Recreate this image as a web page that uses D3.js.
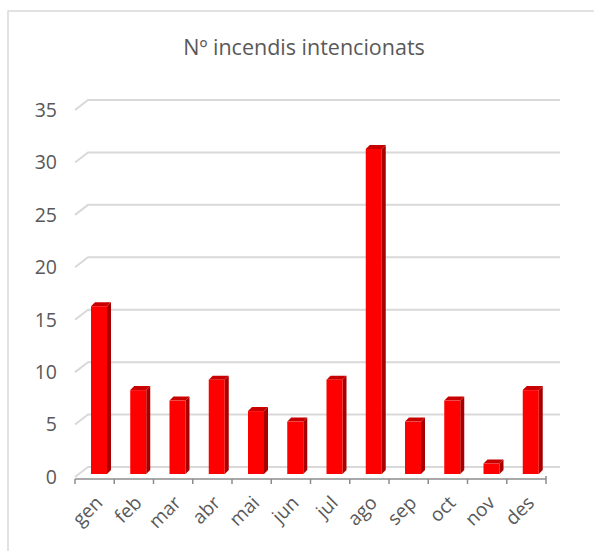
<!DOCTYPE html>
<html>
<head>
<meta charset="utf-8">
<script src="https://cdn.jsdelivr.net/npm/d3@7"></script>
<style>
  body { margin: 0; background: #fff; }
  svg { display: block; }
  text { font-family: "Open Sans", "Liberation Sans", Arial, sans-serif; fill: #595959; }
</style>
</head>
<body>
<svg id="chart" width="594" height="551"></svg>
<script>
// data
var months = ["gen", "feb", "mar", "abr", "mai", "jun", "jul", "ago", "sep", "oct", "nov", "des"];
var values = [16, 8, 7, 9, 6, 5, 9, 31, 5, 7, 1, 8];
var yTicks = [0, 5, 10, 15, 20, 25, 30, 35];
var title = "Nº incendis intencionats";

var svg = d3.select("#chart");

// chart border (only top/left visible)
svg.append("rect")
    .attr("x", 8).attr("y", 11)
    .attr("width", 600).attr("height", 560)
    .attr("fill", "none")
    .attr("stroke", "#d9d9d9")
    .attr("stroke-width", 1.5);

svg.append("text")
    .attr("x", 304).attr("y", 55)
    .attr("text-anchor", "middle")
    .style("font-size", "21.5px")
    .text(title);

var x = d3.scaleBand().domain(months).range([75, 546]);
// y for bar front faces
var y = d3.scaleLinear().domain([0, 35]).range([474, 474 - 35 * 10.486]);

var depth = 4;

// gridlines: slanted side wall + back wall
svg.selectAll(".grid")
    .data(yTicks)
    .enter()
    .append("path")
    .attr("class", "grid")
    .attr("fill", "none")
    .attr("stroke", "#d9d9d9")
    .attr("stroke-width", 2)
    .attr("d", function (d) {
        return "M 75 " + (y(d) + 3) + " L 88 " + (y(d) - 7) + " L 560 " + (y(d) - 7);
    });

// y labels
svg.selectAll(".ylab")
    .data(yTicks)
    .enter()
    .append("text")
    .attr("class", "ylab")
    .attr("x", 57)
    .attr("y", function (d) {return y(d) + 3;})
    .attr("dy", "0.35em")
    .attr("text-anchor", "end")
    .style("font-size", "19.5px")
    .text(function (d) {return d;});

// bars
var bars = svg.selectAll(".bar")
    .data(values)
    .enter()
    .append("g")
    .attr("class", "bar");

var bw = 16;
function x0(d, i) { return x(months[i]) + 16; }

bars.append("path")
    .attr("fill", "#a80000")
    .attr("d", function (d, i) {
        var a = x0(d, i) + bw;
        return "M " + a + " " + y(d) + " L " + (a + depth) + " " + (y(d) - depth) +
            " L " + (a + depth) + " " + (y(0) - depth) + " L " + a + " " + y(0) + " Z";
    });

bars.append("path")
    .attr("fill", "#c80000")
    .attr("d", function (d, i) {
        var a = x0(d, i);
        return "M " + a + " " + y(d) + " L " + (a + depth) + " " + (y(d) - depth) +
            " L " + (a + bw + depth) + " " + (y(d) - depth) + " L " + (a + bw) + " " + y(d) + " Z";
    });

bars.append("rect")
    .attr("fill", "#ff0000")
    .attr("x", x0)
    .attr("y", function (d) {return y(d);})
    .attr("width", bw)
    .attr("height", function (d) {return y(0) - y(d);});

// category axis
var axY = 479;
svg.append("line")
    .attr("x1", 75).attr("x2", 546)
    .attr("y1", axY).attr("y2", axY)
    .attr("stroke", "#8c8c8c").attr("stroke-width", 1.5);

var tickPos = months.map(function (m) {return x(m);}).concat([546]);
svg.selectAll(".tick")
    .data(tickPos)
    .enter()
    .append("line")
    .attr("class", "tick")
    .attr("x1", function (d) {return d;})
    .attr("x2", function (d) {return d;})
    .attr("y1", function (d, i) {return i == tickPos.length - 1 ? axY - 3 : axY;})
    .attr("y2", axY + 5)
    .attr("stroke", "#8c8c8c").attr("stroke-width", 1.5);

svg.selectAll(".xlab")
    .data(months)
    .enter()
    .append("text")
    .attr("class", "xlab")
    .attr("text-anchor", "end")
    .style("font-size", "19px")
    .attr("transform", function (d) {
        return "translate(" + (x(d) + x.bandwidth() / 2 + 9) + "," + 504 + ") rotate(-45)";
    })
    .text(function (d) {return d;});
</script>
</body>
</html>
